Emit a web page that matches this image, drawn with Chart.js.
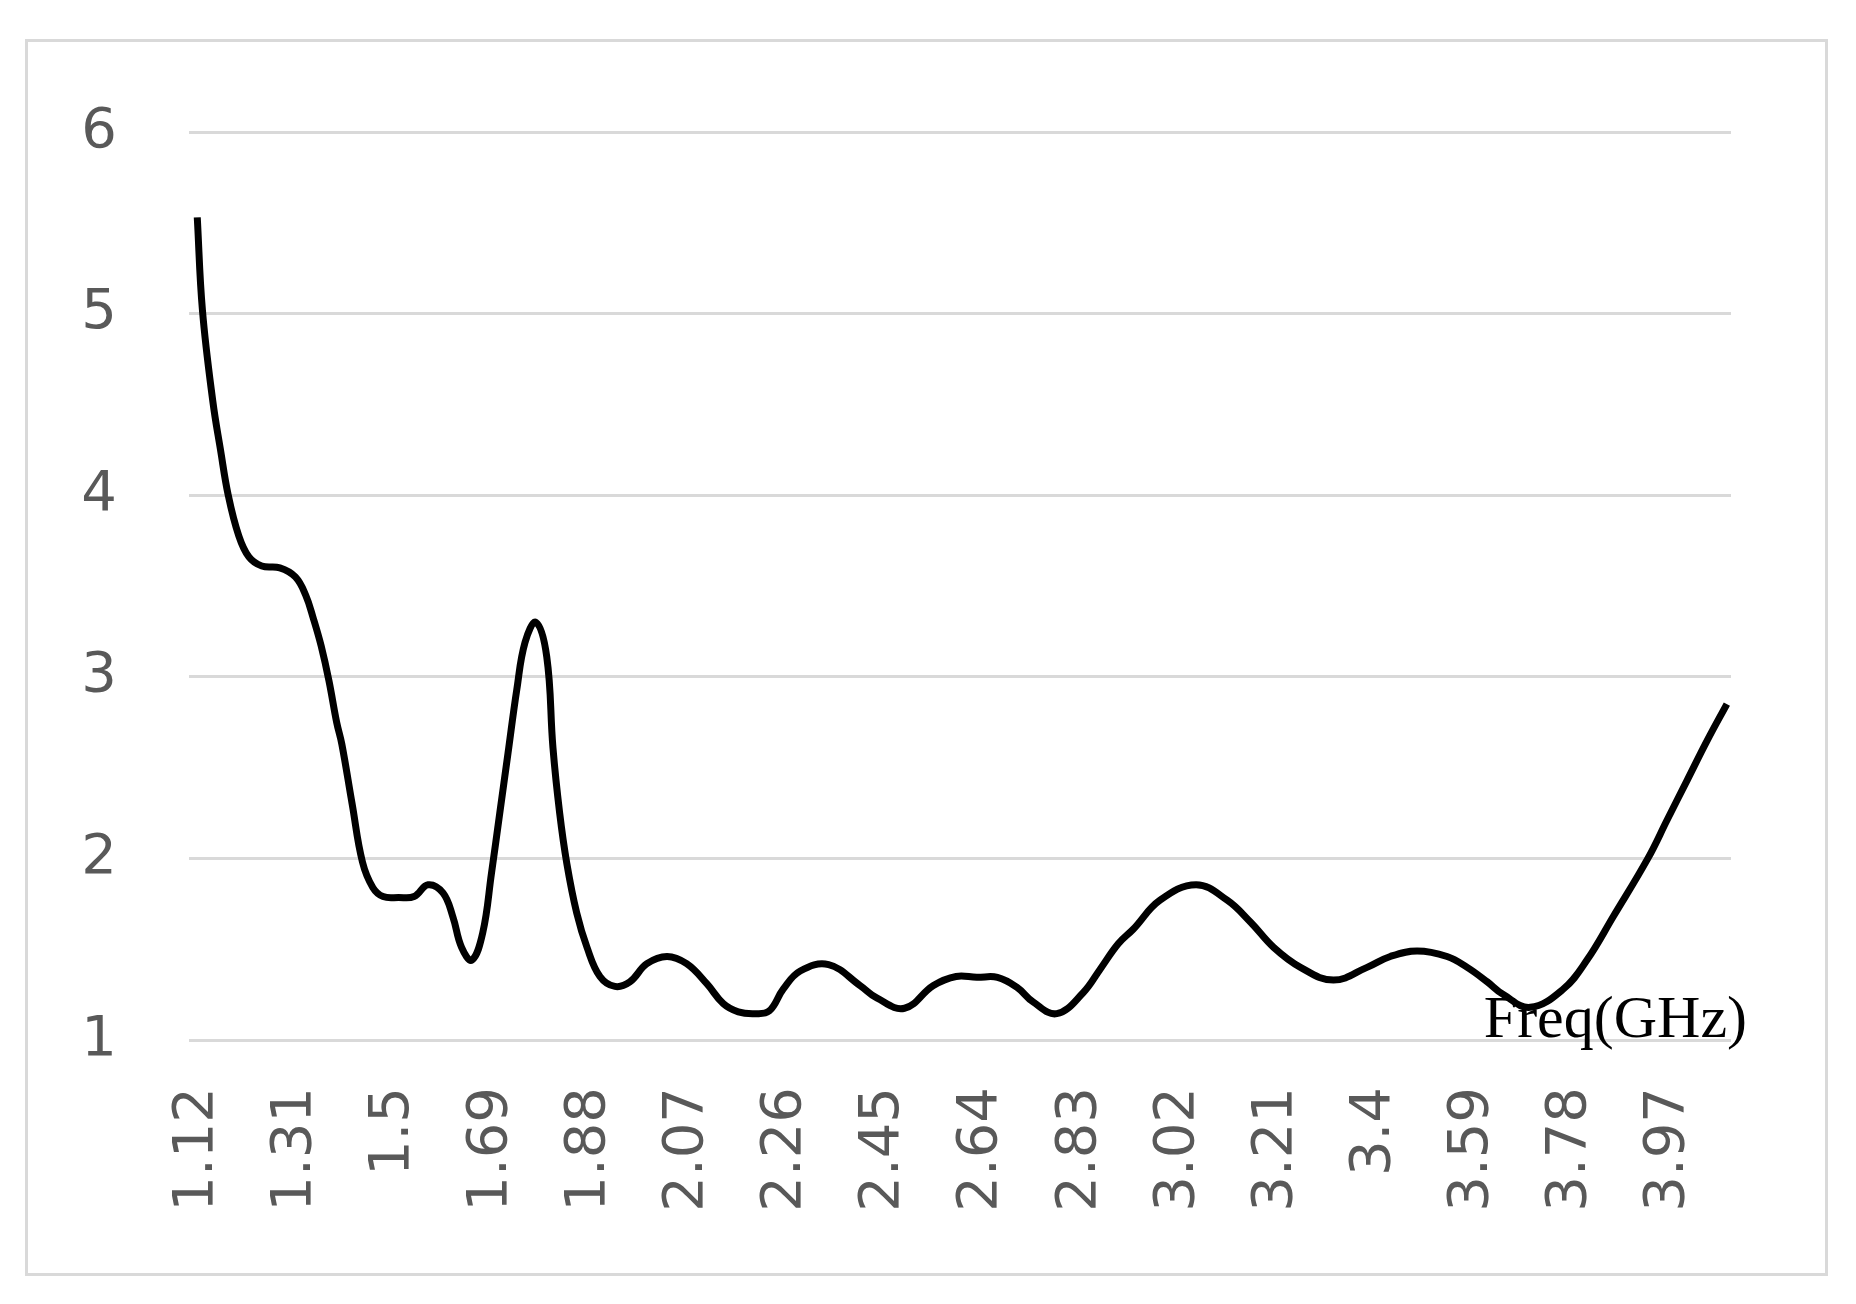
<!DOCTYPE html>
<html>
<head>
<meta charset="utf-8">
<script src="https://cdn.jsdelivr.net/npm/chart.js@4.4.1/dist/chart.umd.min.js"></script>
<style>
  html, body { margin: 0; padding: 0; background: #fff; }
  #wrap { position: relative; width: 1856px; height: 1304px; }
  #frame { position: absolute; left: 25px; top: 39px; width: 1803px; height: 1237px; box-sizing: border-box; border: 3px solid #d9d9d9; pointer-events: none; }
  canvas { position: absolute; left: 0; top: 0; }
</style>
</head>
<body>
<div id="wrap">
  <canvas id="grafico" width="1856" height="1304"></canvas>
  <div id="frame"></div>
</div>
<script>
// frequencia (GHz) e valores
const freqs = [
  1.12, 1.13, 1.15, 1.165, 1.18, 1.20, 1.22, 1.245, 1.28,
  1.31, 1.33, 1.345, 1.36, 1.375, 1.39, 1.40, 1.42, 1.44, 1.46,
  1.48, 1.51, 1.54, 1.567, 1.596, 1.615, 1.632, 1.652, 1.673, 1.69,
  1.706, 1.722, 1.739, 1.755, 1.776, 1.797, 1.809, 1.822, 1.836, 1.855,
  1.875, 1.90, 1.929, 1.958, 1.991, 2.03, 2.068, 2.107, 2.139, 2.168,
  2.20, 2.228, 2.255, 2.288, 2.343, 2.404, 2.437, 2.49,
  2.546, 2.59, 2.63, 2.67, 2.708, 2.739, 2.785, 2.836, 2.869, 2.904,
  2.933, 2.985, 3.055, 3.115, 3.16, 3.205, 3.257, 3.321, 3.386,
  3.431, 3.483, 3.541, 3.58, 3.619, 3.65, 3.702, 3.766,
  3.812, 3.863, 3.93, 3.967, 4.006, 4.045, 4.083
];
const vswr = [
  5.53, 5.02, 4.52, 4.25, 4.0, 3.78, 3.66, 3.61, 3.60,
  3.55, 3.45, 3.32, 3.17, 2.98, 2.75, 2.63, 2.30, 1.98, 1.84,
  1.79, 1.785, 1.79, 1.855, 1.81, 1.68, 1.51, 1.44, 1.59, 1.92,
  2.25, 2.58, 2.93, 3.19, 3.30, 3.11, 2.61, 2.25, 1.97, 1.70,
  1.51, 1.35, 1.295, 1.32, 1.42, 1.46, 1.42, 1.31, 1.20, 1.155,
  1.145, 1.16, 1.28, 1.38, 1.415, 1.30, 1.23, 1.175,
  1.30, 1.35, 1.345, 1.345, 1.29, 1.21, 1.145, 1.26, 1.39, 1.53,
  1.61, 1.77, 1.855, 1.77, 1.65, 1.51, 1.40, 1.33, 1.40,
  1.46, 1.49, 1.46, 1.40, 1.32, 1.25, 1.18, 1.28,
  1.44, 1.68, 2.00, 2.21, 2.43, 2.65, 2.85
];
const tickValues = [1.12, 1.31, 1.5, 1.69, 1.88, 2.07, 2.26, 2.45, 2.64, 2.83, 3.02, 3.21, 3.4, 3.59, 3.78, 3.97];
const tickLabels = ['1.12', '1.31', '1.5', '1.69', '1.88', '2.07', '2.26', '2.45', '2.64', '2.83', '3.02', '3.21', '3.4', '3.59', '3.78', '3.97'];

const fonteEixo = { family: '"DejaVu Sans"', size: 56 };
const cinza = '#595959';

const rotuloFreq = {
  id: 'rotuloFreq',
  afterDraw(chart) {
    const c = chart.ctx;
    c.save();
    c.font = '60px "Liberation Serif"';
    c.fillStyle = '#000';
    c.textAlign = 'right';
    c.textBaseline = 'alphabetic';
    c.fillText('Freq(GHz)', chart.chartArea.right + 16, chart.scales.y.getPixelForValue(1) - 3);
    c.restore();
  }
};

const ctx = document.getElementById('grafico').getContext('2d');
new Chart(ctx, {
  type: 'line',
  data: {
    datasets: [{
      data: freqs.map((f, i) => ({ x: f, y: vswr[i] })),
      borderColor: '#000',
      borderWidth: 7,
      pointRadius: 0,
      fill: false,
      tension: 0.4
    }]
  },
  options: {
    responsive: false,
    animation: false,
    devicePixelRatio: 1,
    layout: { padding: { top: 132, right: 125, bottom: 0, left: 0 } },
    plugins: { legend: { display: false }, tooltip: { enabled: false } },
    scales: {
      x: {
        type: 'linear',
        min: 1.104,
        max: 4.091,
        afterBuildTicks: axis => { axis.ticks = tickValues.map(v => ({ value: v })); },
        afterFit: s => { s.height = 264; },
        grid: { display: false },
        border: { display: false },
        ticks: {
          autoSkip: false,
          minRotation: 90,
          maxRotation: 90,
          padding: 39,
          font: fonteEixo,
          color: cinza,
          callback: (v, i) => tickLabels[i]
        }
      },
      y: {
        min: 1,
        max: 6,
        afterFit: s => { s.width = 189; },
        grid: { color: '#d9d9d9', lineWidth: 3, drawTicks: false },
        border: { display: false },
        ticks: { stepSize: 1, padding: 72, font: fonteEixo, color: cinza }
      }
    }
  },
  plugins: [rotuloFreq]
});
</script>
</body>
</html>
